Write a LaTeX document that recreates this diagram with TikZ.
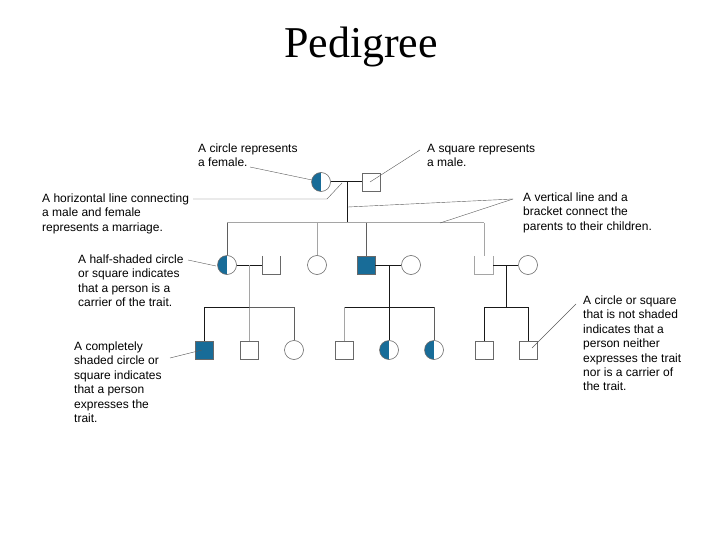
\documentclass[tikz,border=0pt]{standalone}
\usepackage{fontspec}
\newfontfamily\labfont{Liberation Sans}
\newfontfamily\ttlfont{Liberation Serif}
\definecolor{trait}{RGB}{24,108,152}
\definecolor{outl}{RGB}{105,105,105}
\definecolor{dark}{RGB}{25,25,25}
\definecolor{mid}{RGB}{95,95,95}
\definecolor{light}{RGB}{165,165,165}
\definecolor{ptr}{RGB}{90,90,90}
\tikzset{
  female/.style={circle, draw=outl, line width=0.6pt, minimum size=19pt, inner sep=0pt},
  male/.style={rectangle, draw=outl, line width=0.6pt, minimum size=18pt, inner sep=0pt},
  openmale/.style={rectangle, minimum size=18pt, inner sep=0pt},
  carrier/.style={path picture={\fill[trait] (path picture bounding box.south west) rectangle (path picture bounding box.north);}},
  affected/.style={fill=trait, draw=outl},
  lab/.style={anchor=base west, align=left, inner sep=0pt, font=\labfont\fontsize{12}{14.4}\selectfont},
  dline/.style={draw=dark, line width=1pt},
  mline/.style={draw=mid, line width=1pt},
  lline/.style={draw=light, line width=1pt},
  pointer/.style={draw=ptr, line width=0.4pt},
}
\begin{document}
\begin{tikzpicture}[x=1pt, y=-1pt]
\useasboundingbox (0,0) rectangle (720,540);
\node[anchor=base, inner sep=0pt, font=\ttlfont\fontsize{44}{50}\selectfont] (title) at (361,58) {Pedigree};

% labels (anchor = baseline of the last line)
\node[lab] (tcircle) at (198,166.9) {A circle represents\\a female.};
\node[lab] (tsquare) at (427,166.9) {A square represents\\a male.};
\node[lab] (thoriz) at (42,231.3) {A horizontal line connecting\\a male and female\\represents a marriage.};
\node[lab] (tvert) at (523,230.3) {A vertical line and a\\bracket connect the\\parents to their children.};
\node[lab] (thalf) at (78,306.7) {A half-shaded circle\\or square indicates\\that a person is a\\carrier of the trait.};
\node[lab] (tfull) at (74,422.5) {A completely\\shaded circle or\\square indicates\\that a person\\expresses the\\trait.};
\node[lab] (tnone) at (583,390.9) {A circle or square\\that is not shaded\\indicates that a\\person neither\\expresses the trait\\nor is a carrier of\\the trait.};

% generation I
\node[female, carrier] (F1) at (321,182) {};
\node[male] (M1) at (371,182) {};
% generation II
\node[female, carrier] (F2) at (227,265) {};
\node[openmale] (M2) at (271,265) {};
\node[female] (F3) at (317,265) {};
\node[male, affected] (M3) at (366,265) {};
\node[female] (F4) at (411,265) {};
\node[openmale] (M4) at (484,265) {};
\node[female] (F5) at (528,265) {};
% generation III
\node[male, affected] (M5) at (204,350) {};
\node[male] (M6) at (249,350) {};
\node[female] (F6) at (294,350) {};
\node[male] (M7) at (344,350) {};
\node[female, carrier] (F7) at (389,350) {};
\node[female, carrier] (F8) at (434,350) {};
\node[male] (M8) at (484,350) {};
\node[male] (M9) at (528,350) {};

% open-top squares
\draw[outl, line width=0.6pt] (M2.north west) -- (M2.south west) -- (M2.south east) -- (M2.north east);
\draw[light, line width=1pt] (M4.north west) -- (M4.south west) -- (M4.south east) -- (M4.north east);

% coordinates
\coordinate (m1) at (347,182);
\coordinate (b1) at (347,223);
\coordinate (b1l) at (227,223);
\coordinate (b1a) at (317,223);
\coordinate (b1b) at (366,223);
\coordinate (b1r) at (484,223);
\coordinate (m2) at (249,265);
\coordinate (b2) at (249,307);
\coordinate (b2l) at (204,307);
\coordinate (b2r) at (294,307);
\coordinate (m3) at (389,265);
\coordinate (b3) at (389,307);
\coordinate (b3l) at (344,307);
\coordinate (b3r) at (434,307);
\coordinate (m4) at (506,265);
\coordinate (b4) at (506,307);
\coordinate (b4l) at (484,307);
\coordinate (b4r) at (528,307);

% generation I connections
\draw[dline] (F1.east) -- (M1.west);
\draw[dline] (m1) -- (b1);
\draw[lline] (b1l) -- (b1r);
\draw[mline] (b1l) -- (F2.north);
\draw[lline] (b1a) -- (F3.north);
\draw[mline] (b1b) -- (M3.north);
\draw[lline] (b1r) -- (M4.north);

% generation II connections
\draw[dline] (F2.east) -- (M2.west);
\draw[dline] (M3.east) -- (F4.west);
\draw[dline] (M4.east) -- (F5.west);
\draw[lline] (m2) -- (M6.north);
\draw[dline] (m3) -- (F7.north);
\draw[dline] (m4) -- (b4);

% generation III brackets
\draw[dline] (M5.north) -- (b2l) -- (b2);
\draw[mline] (b2) -- (b2r) -- (F6.north);
\draw[dline] (b3l) -- (b3r);
\draw[lline] (b3l) -- (M7.north);
\draw[mline] (b3r) -- (F8.north);
\draw[dline] (M8.north) -- (b4l) -- (b4r) -- (M9.north);

% pointers
\coordinate (p1a) at (250,167); \coordinate (p1b) at (312,180);
\draw[pointer] (p1a) -- (p1b);
\coordinate (p2a) at (420,150); \coordinate (p2b) at (370,182);
\draw[pointer] (p2a) -- (p2b);
\coordinate (p3a) at (193,199); \coordinate (p3k) at (327,199); \coordinate (p3b) at (342,183);
\draw[pointer] (p3a) -- (p3k) -- (p3b);
\coordinate (p4a) at (513,199); \coordinate (p4b) at (348,207); \coordinate (p4c) at (440,223);
\draw[pointer] (p4a) -- (p4b);
\draw[pointer] (p4a) -- (p4c);
\coordinate (p5a) at (188,260); \coordinate (p5b) at (216,266);
\draw[pointer] (p5a) -- (p5b);
\coordinate (p6a) at (170,358); \coordinate (p6b) at (202,350);
\draw[pointer] (p6a) -- (p6b);
\coordinate (p7a) at (576,304); \coordinate (p7b) at (532,348);
\draw[pointer] (p7a) -- (p7b);
\end{tikzpicture}
\end{document}
